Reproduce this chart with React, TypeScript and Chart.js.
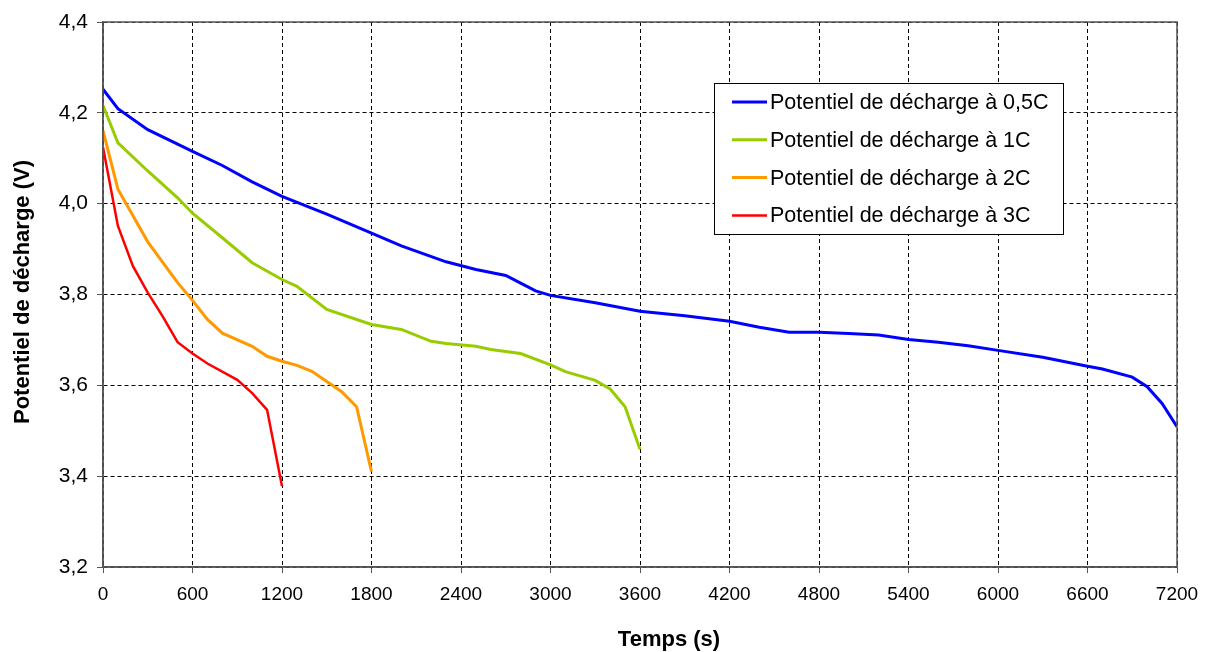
import React, { useEffect, useRef } from "react";
import { Chart, registerables } from "chart.js";

Chart.register(...registerables);

const xTicks = [0, 600, 1200, 1800, 2400, 3000, 3600, 4200, 4800, 5400, 6000, 6600, 7200];
const yTickLabels = ["3,2", "3,4", "3,6", "3,8", "4,0", "4,2", "4,4"];
const xTitle = "Temps (s)";
const yTitle = "Potentiel de décharge (V)";

const t05 = [0, 100, 300, 500, 600, 800, 1000, 1200, 1500, 1800, 2000, 2300, 2500, 2700, 2800, 2900, 3000, 3300, 3600, 3900, 4200, 4400, 4600, 4800, 5000, 5200, 5400, 5600, 5800, 6000, 6300, 6600, 6700, 6900, 7000, 7100, 7200];
const v05 = [4.252, 4.209, 4.163, 4.131, 4.115, 4.084, 4.048, 4.016, 3.977, 3.935, 3.907, 3.872, 3.855, 3.842, 3.825, 3.808, 3.798, 3.782, 3.763, 3.753, 3.741, 3.728, 3.717, 3.717, 3.714, 3.711, 3.701, 3.695, 3.687, 3.677, 3.662, 3.642, 3.636, 3.618, 3.597, 3.560, 3.509];

const t1 = [0, 100, 300, 500, 600, 800, 1000, 1200, 1300, 1500, 1800, 2000, 2200, 2300, 2500, 2600, 2800, 3000, 3100, 3300, 3400, 3500, 3600];
const v1 = [4.216, 4.134, 4.072, 4.013, 3.979, 3.925, 3.870, 3.833, 3.818, 3.767, 3.734, 3.723, 3.697, 3.692, 3.686, 3.679, 3.670, 3.645, 3.630, 3.611, 3.592, 3.553, 3.459];

const t2 = [0, 100, 300, 500, 600, 700, 800, 1000, 1100, 1200, 1300, 1400, 1600, 1700, 1800];
const v2 = [4.161, 4.032, 3.916, 3.826, 3.787, 3.745, 3.715, 3.686, 3.664, 3.653, 3.644, 3.631, 3.586, 3.553, 3.410];

const t3 = [0, 100, 200, 300, 400, 500, 600, 700, 900, 1000, 1100, 1200];
const v3 = [4.124, 3.951, 3.863, 3.804, 3.752, 3.695, 3.670, 3.648, 3.612, 3.583, 3.546, 3.378];

const seriesLabels = [
  "Potentiel de décharge à 0,5C",
  "Potentiel de décharge à 1C",
  "Potentiel de décharge à 2C",
  "Potentiel de décharge à 3C",
];
const seriesColors = ["#0000FF", "#99CC00", "#FF9900", "#FF0000"];
const seriesWidths = [3, 3, 3, 2.5];

const toPts = (t: number[], v: number[]) => t.map((x, i) => ({ x, y: v[i] }));

const FONT = "'Liberation Sans', Arial, sans-serif";

const framePlugin = {
  id: "frame",
  afterDatasetsDraw(chart: any) {
    const { ctx, chartArea: a } = chart;
    ctx.save();
    ctx.strokeStyle = "#555";
    ctx.lineWidth = 1.5;
    ctx.strokeRect(a.left, a.top, a.right - a.left, a.bottom - a.top);
    ctx.restore();
  },
};

const legendPlugin = {
  id: "customLegend",
  afterDraw(chart: any) {
    const { ctx } = chart;
    const bx = 714, by = 83, bw = 349, bh = 151;
    ctx.save();
    ctx.fillStyle = "#fff";
    ctx.fillRect(bx, by, bw, bh);
    ctx.strokeStyle = "#000";
    ctx.lineWidth = 1;
    ctx.strokeRect(bx + 0.5, by + 0.5, bw, bh);
    ctx.font = `21.5px ${FONT}`;
    ctx.textBaseline = "middle";
    chart.data.datasets.forEach((ds: any, i: number) => {
      const y = 102 + i * 37.8;
      ctx.strokeStyle = ds.borderColor;
      ctx.lineWidth = ds.borderWidth;
      ctx.beginPath();
      ctx.moveTo(732, y);
      ctx.lineTo(767, y);
      ctx.stroke();
      ctx.fillStyle = "#000";
      ctx.fillText(ds.label, 770, y + 1);
    });
    // axis titles
    ctx.fillStyle = "#000";
    ctx.font = `bold 22px ${FONT}`;
    ctx.textAlign = "center";
    ctx.textBaseline = "middle";
    ctx.fillText(xTitle, 669, 640);
    ctx.translate(23, 292);
    ctx.rotate(-Math.PI / 2);
    ctx.fillText(yTitle, 0, 0);
    ctx.restore();
  },
};

export default function App() {
  const ref = useRef<HTMLCanvasElement | null>(null);

  useEffect(() => {
    document.body.style.margin = "0";
    const canvas = ref.current!;
    const datasets = [toPts(t05, v05), toPts(t1, v1), toPts(t2, v2), toPts(t3, v3)].map((d, i) => ({
      label: seriesLabels[i],
      data: d,
      borderColor: seriesColors[i],
      backgroundColor: seriesColors[i],
      borderWidth: seriesWidths[i],
      pointRadius: 0,
      tension: 0,
      fill: false,
    }));
    const chart = new Chart(canvas, {
      type: "line",
      data: { datasets },
      plugins: [framePlugin, legendPlugin],
      options: {
        responsive: false,
        animation: false,
        layout: { padding: { left: 0, top: 22, right: 33, bottom: 0 } },
        plugins: { legend: { display: false }, tooltip: { enabled: false } },
        scales: {
          x: {
            type: "linear",
            min: 0,
            max: 7200,
            afterBuildTicks: (s: any) => {
              s.ticks = xTicks.map((v) => ({ value: v }));
            },
            afterFit: (s: any) => {
              s.height = 85;
            },
            ticks: {
              callback: (v: any) => String(v),
              font: { family: FONT, size: 19 },
              color: "#000",
              padding: 10,
              maxRotation: 0,
              autoSkip: false,
            },
            grid: { color: "#000", lineWidth: 1, tickLength: 6, tickColor: "#555", tickBorderDash: [] },
            border: { color: "#555", width: 1.5, dash: [4, 3] },
          },
          y: {
            type: "linear",
            min: 3.2,
            max: 4.4,
            afterBuildTicks: (s: any) => {
              s.ticks = yTickLabels.map((_, i) => ({ value: 3.2 + i * 0.2 }));
            },
            afterFit: (s: any) => {
              s.width = 103;
            },
            ticks: {
              callback: (_v: any, i: number) => yTickLabels[i],
              font: { family: FONT, size: 21 },
              color: "#000",
              padding: 9,
            },
            grid: { color: "#000", lineWidth: 1, tickLength: 6, tickColor: "#555", tickBorderDash: [] },
            border: { color: "#555", width: 1.5, dash: [4, 3] },
          },
        },
      },
    } as any);
    return () => chart.destroy();
  }, []);

  return (
    <div style={{ position: "absolute", left: 0, top: 0, width: 1210, height: 652, background: "#fff" }}>
      <canvas ref={ref} width={1210} height={652} />
    </div>
  );
}
